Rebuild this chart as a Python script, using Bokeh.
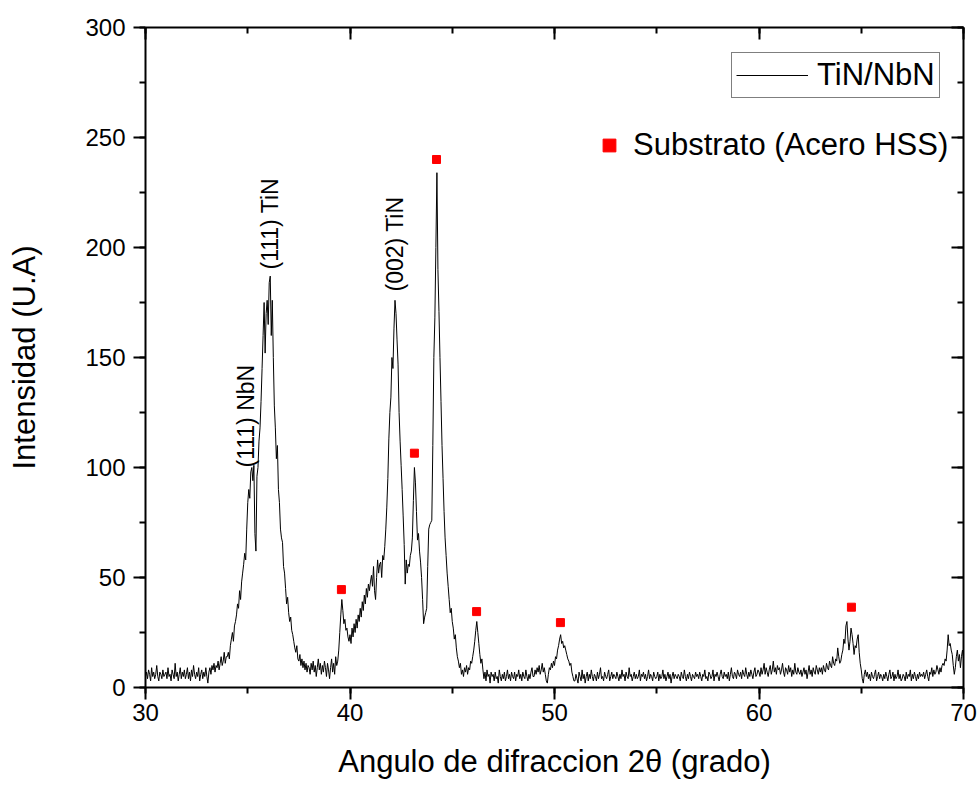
import math
from bokeh.plotting import figure
from bokeh.models import (LinearAxis, SingleIntervalTicker, Legend, LegendItem,
                          Range1d, ColumnDataSource)
from bokeh.core.properties import value
from bokeh.embed import file_html
from bokeh.resources import INLINE

FONT = "Liberation Sans"

# ---------------- data ----------------
x_start = 30.0
x_step = 0.05

# intensity, one row per degree (20 samples each), 30.00 ... 70.00
intensity = [
    5, 7, 4, 8, 6, 3, 9, 5, 7, 4, 6, 10, 5, 3, 7, 6, 4, 8, 5, 6,                 # 30
    7, 4, 9, 5, 6, 3, 8, 6, 4, 11, 5, 7, 3, 6, 9, 4, 7, 5, 8, 4,                 # 31
    6, 9, 4, 7, 3, 8, 5, 10, 6, 4, 7, 5, 9, 3, 6, 8, 4, 7, 5, 9,                 # 32
    5, 2, 7, 9, 6, 10, 8, 11, 7, 10, 9, 12, 8, 11, 14, 10, 12, 16, 11, 14,       # 33
    14, 16, 13, 19, 22, 25, 21, 28, 30, 33, 38, 36, 44, 40, 48, 52, 56, 61, 58, 72,  # 34
    84, 90, 86, 98, 100, 94, 101, 70, 62, 96, 100, 112, 118, 130, 145, 160, 175, 152, 170, 176,  # 35
    165, 184, 187, 160, 176, 150, 128, 118, 104, 110, 90, 84, 72, 68, 66, 55, 52, 45, 38, 41,  # 36
    34, 30, 32, 26, 24, 21, 18, 16, 19, 13, 12, 15, 10, 13, 9, 12, 8, 11, 7, 10,   # 37
    9, 6, 11, 8, 12, 7, 10, 5, 9, 13, 8, 11, 6, 10, 7, 12, 9, 5, 11, 8,           # 38
    4, 9, 13, 7, 11, 6, 14, 10, 12, 17, 25, 33, 40, 35, 29, 31, 26, 27, 23, 21,   # 39
    24, 20, 27, 23, 29, 25, 31, 27, 33, 30, 36, 32, 39, 35, 42, 38, 45, 41, 47, 44,  # 40
    48, 51, 46, 55, 44, 40, 50, 58, 52, 56, 57, 50, 60, 58, 64, 72, 82, 95, 113, 125,  # 41
    132, 150, 145, 163, 176, 170, 158, 147, 125, 112, 101, 90, 78, 65, 47, 58, 52, 56, 55, 60,  # 42
    62, 68, 85, 100, 93, 80, 67, 70, 62, 57, 50, 40, 29, 32, 34, 36, 55, 72, 74, 75,  # 43
    76, 110, 150, 168, 200, 234, 190, 171, 150, 130, 110, 95, 80, 68, 60, 52, 46, 40, 34, 36,  # 44
    30, 27, 22, 24, 18, 14, 12, 9, 11, 6, 8, 5, 9, 7, 10, 6, 9, 8, 12, 11,         # 45
    14, 17, 21, 26, 30, 25, 20, 15, 11, 13, 8, 4, 7, 3, 8, 5, 6, 2, 7, 5,          # 46
    6, 3, 7, 4, 5, 2, 8, 5, 3, 6, 4, 7, 3, 5, 8, 4, 6, 3, 7, 5,                   # 47
    4, 7, 3, 6, 5, 8, 4, 6, 3, 7, 5, 4, 8, 5, 3, 6, 4, 7, 9, 5,                   # 48
    5, 8, 6, 9, 7, 10, 6, 8, 11, 7, 9, 6, 3, 2, 6, 9, 8, 11, 9, 12,               # 49
    10, 14, 13, 17, 19, 22, 24, 20, 21, 18, 19, 17, 15, 13, 12, 10, 11, 7, 5, 3,   # 50
    3, 6, 4, 2, 7, 5, 3, 8, 4, 6, 2, 5, 7, 3, 6, 4, 8, 5, 3, 6,                   # 51
    5, 3, 7, 4, 6, 9, 4, 5, 3, 7, 5, 4, 6, 8, 3, 5, 7, 4, 6, 5,                   # 52
    4, 7, 5, 3, 6, 4, 8, 5, 6, 3, 7, 5, 4, 9, 5, 6, 3, 5, 7, 4,                   # 53
    6, 4, 5, 8, 3, 6, 5, 7, 4, 6, 3, 5, 8, 4, 6, 5, 3, 7, 5, 4,                   # 54
    5, 7, 3, 6, 4, 5, 8, 4, 6, 3, 5, 7, 4, 6, 2, 5, 7, 4, 6, 5,                   # 55
    4, 6, 5, 3, 7, 5, 4, 8, 5, 3, 6, 4, 7, 5, 3, 6, 5, 4, 7, 5,                   # 56
    6, 4, 7, 5, 3, 6, 5, 8, 4, 5, 3, 7, 6, 4, 5, 8, 3, 6, 5, 7,                   # 57
    5, 3, 6, 8, 5, 4, 7, 5, 6, 4, 7, 3, 6, 9, 5, 4, 7, 6, 4, 8,                   # 58
    6, 5, 7, 4, 8, 6, 5, 9, 6, 4, 7, 5, 8, 6, 4, 7, 9, 5, 6, 8,                   # 59
    7, 5, 9, 6, 8, 11, 6, 9, 7, 5, 8, 10, 6, 8, 12, 7, 9, 6, 10, 8,               # 60
    9, 6, 8, 11, 7, 5, 9, 8, 6, 10, 7, 9, 5, 8, 6, 11, 7, 6, 9, 7,                # 61
    6, 8, 5, 7, 9, 6, 8, 4, 7, 10, 6, 8, 5, 9, 7, 6, 10, 8, 6, 9,                 # 62
    7, 9, 6, 10, 8, 7, 11, 9, 8, 12, 10, 9, 14, 11, 10, 13, 12, 18, 14, 11,        # 63
    12, 15, 17, 22, 20, 28, 30, 22, 17, 21, 27, 24, 20, 15, 19, 18, 22, 24, 16, 11,  # 64
    8, 4, 2, 6, 8, 5, 7, 4, 6, 3, 7, 5, 4, 6, 8, 3, 5, 7, 4, 6,                   # 65
    5, 3, 6, 4, 7, 5, 3, 6, 8, 4, 5, 7, 3, 6, 4, 5, 8, 4, 6, 3,                   # 66
    4, 6, 5, 3, 7, 4, 6, 5, 8, 3, 6, 4, 7, 5, 3, 6, 4, 7, 5, 6,                   # 67
    5, 7, 4, 6, 8, 5, 3, 7, 6, 9, 5, 8, 6, 7, 10, 8, 6, 9, 7, 10,                 # 68
    11, 10, 13, 12, 17, 24, 19, 20, 17, 15, 10, 6, 9, 14, 17, 12, 15, 9, 14, 17,   # 69
    13,                                                                            # 70
]
two_theta = [round(x_start + i * x_step, 2) for i in range(len(intensity))]

# substrate (HSS steel) reflections marked with red squares
substrate_x = [39.58, 43.15, 44.23, 46.19, 50.29, 64.52]
substrate_y = [44.5, 106.5, 240.0, 34.5, 29.5, 36.5]

# peak annotations
peak_labels = ["(111) NbN", "(111) TiN", "(002) TiN"]
peak_label_x = [34.89, 36.11, 42.22]
peak_label_y = [100.0, 190.0, 180.0]

x_label = "Angulo de difraccion 2θ (grado)"
y_label = "Intensidad (U.A)"
series_name = "TiN/NbN"
marker_name = "Substrato (Acero HSS)"

# ---------------- figure ----------------
p = figure(width=980, height=792, x_range=Range1d(30, 70), y_range=Range1d(0, 300),
           output_backend="svg", toolbar_location=None,
           min_border_left=145, min_border_right=17, min_border_top=27, min_border_bottom=105)
p.xgrid.visible = False
p.ygrid.visible = False
p.outline_line_color = None
p.background_fill_color = "white"
p.border_fill_color = "white"

src = ColumnDataSource(dict(x=two_theta, y=intensity))
line_r = p.line("x", "y", source=src, line_color="black", line_width=1)

sq_r = p.scatter(substrate_x, substrate_y, marker="square", size=8,
                 fill_color="#ff0000", line_color="#ff0000")

p.text(x=peak_label_x, y=peak_label_y, text=peak_labels, angle=math.pi / 2,
       text_align="left", text_baseline="middle", text_font=value(FONT),
       text_font_size="23px", text_color="black")


def style_axis(ax, interval, inward, labels):
    ax.ticker = SingleIntervalTicker(interval=interval, num_minor_ticks=2)
    ax.axis_line_width = 2
    ax.axis_line_color = "black"
    ax.major_tick_line_width = 2
    ax.minor_tick_line_width = 2
    ax.major_tick_line_color = "black"
    ax.minor_tick_line_color = "black"
    if inward:
        ax.major_tick_in, ax.major_tick_out = 12, 0
        ax.minor_tick_in, ax.minor_tick_out = 6, 0
    else:
        ax.major_tick_in, ax.major_tick_out = 0, 12
        ax.minor_tick_in, ax.minor_tick_out = 0, 6
    if labels:
        ax.major_label_text_font = FONT
        ax.major_label_text_font_size = "24px"
        ax.major_label_text_color = "black"
        ax.axis_label_text_font = FONT
        ax.axis_label_text_font_size = "31px"
        ax.axis_label_text_font_style = "normal"
        ax.axis_label_text_color = "black"
    else:
        # mirror axis: ticks only, labels not drawn
        ax.major_label_text_font_size = "1px"
        ax.major_label_text_color = None
        ax.major_label_standoff = 0


xax = p.xaxis[0]
yax = p.yaxis[0]
style_axis(xax, 10, False, True)
style_axis(yax, 50, False, True)
xax.axis_label = x_label
yax.axis_label = y_label
xax.major_label_standoff = 4
xax.axis_label_standoff = 20
yax.major_label_standoff = 8
yax.axis_label_standoff = 40

top = LinearAxis()
style_axis(top, 10, True, False)
p.add_layout(top, "above")
right = LinearAxis()
style_axis(right, 50, True, False)
p.add_layout(right, "right")

leg1 = Legend(items=[LegendItem(label=series_name, renderers=[line_r])],
              location=(586, 589), border_line_color="black", border_line_width=1,
              padding=4, margin=0, spacing=0, glyph_width=72, glyph_height=30,
              label_standoff=9, label_text_font=FONT, label_text_font_size="31px",
              label_text_color="black", background_fill_color="white",
              background_fill_alpha=1.0)
leg2 = Legend(items=[LegendItem(label=marker_name, renderers=[sq_r])],
              location=(448, 524), border_line_color=None, background_fill_alpha=0,
              padding=3, margin=0, spacing=0, glyph_width=32, glyph_height=32,
              label_standoff=8, label_text_font=FONT, label_text_font_size="31px",
              label_text_color="black")
p.add_layout(leg1, "center")
p.add_layout(leg2, "center")

open("out.html", "w").write(file_html(p, INLINE))
